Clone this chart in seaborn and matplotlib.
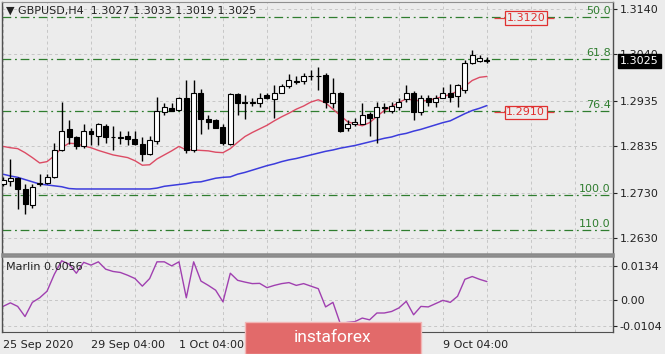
import numpy as np
import pandas as pd
import matplotlib
matplotlib.use("Agg")
import matplotlib.pyplot as plt
import seaborn as sns
from matplotlib.patches import Rectangle

# H4 candles
opens = [1.2750, 1.2757, 1.2764, 1.2739, 1.2703, 1.2750, 1.2753, 1.2766, 1.2825, 1.2872,
         1.2854, 1.2834, 1.2869, 1.2858, 1.2880, 1.2856, 1.2852, 1.2858, 1.2851, 1.2840,
         1.2818, 1.2847, 1.2910, 1.2919, 1.2916, 1.2941, 1.2825, 1.2952, 1.2896, 1.2892,
         1.2878, 1.2840, 1.2950, 1.2934, 1.2930, 1.2930, 1.2948, 1.2939, 1.2954, 1.2968,
         1.2979, 1.2979, 1.2992, 1.2990, 1.2994, 1.2930, 1.2954, 1.2876, 1.2883, 1.2885,
         1.2907, 1.2900, 1.2921, 1.2914, 1.2921, 1.2939, 1.2954, 1.2910, 1.2941, 1.2934,
         1.2943, 1.2954, 1.2947, 1.2959, 1.3019, 1.3024, 1.3027]
highs = [1.2766, 1.2806, 1.2766, 1.2750, 1.2750, 1.2773, 1.2773, 1.2842, 1.2932, 1.2892,
         1.2858, 1.2883, 1.2876, 1.2887, 1.2883, 1.2880, 1.2869, 1.2869, 1.2869, 1.2854,
         1.2858, 1.2945, 1.2930, 1.2930, 1.2945, 1.2981, 1.2981, 1.2963, 1.2903, 1.2896,
         1.2885, 1.2954, 1.2954, 1.2948, 1.2941, 1.2954, 1.2952, 1.2970, 1.2974, 1.2995,
         1.2992, 1.2997, 1.3004, 1.3010, 1.2997, 1.2986, 1.2956, 1.2892, 1.2898, 1.2930,
         1.2910, 1.2932, 1.2930, 1.2932, 1.2941, 1.2970, 1.2957, 1.2948, 1.2948, 1.2948,
         1.2966, 1.2974, 1.2974, 1.3026, 1.3048, 1.3037, 1.3033]
lows = [1.2746, 1.2746, 1.2694, 1.2683, 1.2697, 1.2746, 1.2750, 1.2764, 1.2823, 1.2840,
        1.2829, 1.2831, 1.2836, 1.2836, 1.2842, 1.2825, 1.2840, 1.2836, 1.2836, 1.2802,
        1.2815, 1.2840, 1.2903, 1.2912, 1.2914, 1.2820, 1.2822, 1.2862, 1.2872, 1.2874,
        1.2836, 1.2836, 1.2903, 1.2896, 1.2925, 1.2921, 1.2939, 1.2898, 1.2952, 1.2965,
        1.2974, 1.2974, 1.2981, 1.2959, 1.2919, 1.2919, 1.2865, 1.2869, 1.2880, 1.2883,
        1.2858, 1.2842, 1.2908, 1.2908, 1.2916, 1.2932, 1.2892, 1.2903, 1.2925, 1.2921,
        1.2941, 1.2932, 1.2921, 1.2954, 1.3017, 1.3023, 1.3019]
closes = [1.2759, 1.2764, 1.2739, 1.2705, 1.2744, 1.2752, 1.2766, 1.2826, 1.2869, 1.2854,
          1.2834, 1.2869, 1.2862, 1.2885, 1.2854, 1.2854, 1.2856, 1.2851, 1.2840, 1.2818,
          1.2849, 1.2912, 1.2921, 1.2914, 1.2941, 1.2825, 1.2952, 1.2894, 1.2889, 1.2876,
          1.2842, 1.2950, 1.2930, 1.2930, 1.2932, 1.2943, 1.2941, 1.2954, 1.2968, 1.2981,
          1.2977, 1.2992, 1.2990, 1.2992, 1.2932, 1.2954, 1.2869, 1.2883, 1.2889, 1.2905,
          1.2898, 1.2921, 1.2919, 1.2923, 1.2934, 1.2954, 1.2910, 1.2941, 1.2932, 1.2943,
          1.2954, 1.2945, 1.2970, 1.3021, 1.3037, 1.3030, 1.3025]

# moving averages (red fast, blue slow)
ma_fast = [1.2834, 1.2831, 1.2829, 1.2820, 1.2809, 1.2797, 1.2800, 1.2813, 1.2831, 1.2841,
           1.2840, 1.2835, 1.2831, 1.2825, 1.2820, 1.2815, 1.2812, 1.2809, 1.2802, 1.2792,
           1.2793, 1.2806, 1.2815, 1.2824, 1.2834, 1.2826, 1.2826, 1.2825, 1.2824, 1.2821,
           1.2820, 1.2829, 1.2843, 1.2856, 1.2865, 1.2873, 1.2881, 1.2891, 1.2900, 1.2908,
           1.2917, 1.2924, 1.2933, 1.2938, 1.2931, 1.2917, 1.2903, 1.2889, 1.2884, 1.2880,
           1.2887, 1.2901, 1.2914, 1.2923, 1.2932, 1.2940, 1.2937, 1.2936, 1.2936, 1.2941,
           1.2945, 1.2950, 1.2957, 1.2968, 1.2981, 1.2988, 1.2990]
ma_slow = [1.2772, 1.2768, 1.2765, 1.2760, 1.2755, 1.2750, 1.2748, 1.2746, 1.2744, 1.2740,
           1.2739, 1.2739, 1.2739, 1.2739, 1.2739, 1.2739, 1.2739, 1.2739, 1.2739, 1.2739,
           1.2739, 1.2741, 1.2745, 1.2747, 1.2749, 1.2751, 1.2754, 1.2755, 1.2759, 1.2763,
           1.2765, 1.2766, 1.2772, 1.2776, 1.2781, 1.2786, 1.2791, 1.2795, 1.2800, 1.2804,
           1.2807, 1.2811, 1.2815, 1.2819, 1.2823, 1.2826, 1.2830, 1.2833, 1.2836, 1.2840,
           1.2844, 1.2848, 1.2852, 1.2855, 1.2860, 1.2863, 1.2868, 1.2872, 1.2877, 1.2882,
           1.2887, 1.2891, 1.2899, 1.2907, 1.2914, 1.2919, 1.2925]

marlin = [-0.0027, -0.0013, -0.0027, -0.0067, -0.0011, 0.0007, 0.0033, 0.0100, 0.0153, 0.0140,
          0.0104, 0.0147, 0.0136, 0.0149, 0.0120, 0.0111, 0.0107, 0.0096, 0.0083, 0.0053,
          0.0083, 0.0149, 0.0149, 0.0133, 0.0149, 0.0007, 0.0149, 0.0073, 0.0056, 0.0037,
          -0.0009, 0.0104, 0.0076, 0.0069, 0.0063, 0.0064, 0.0047, 0.0056, 0.0063, 0.0067,
          0.0056, 0.0063, 0.0053, 0.0043, -0.0029, -0.0011, -0.0095, -0.0090, -0.0087, -0.0073,
          -0.0080, -0.0053, -0.0053, -0.0047, -0.0033, -0.0007, -0.0060, -0.0027, -0.0029, -0.0016,
          -0.0003, -0.0011, 0.0013, 0.0080, 0.0091, 0.0080, 0.0071]

fib_labels = ["50.0", "61.8", "76.4", "100.0", "110.0"]
fib_prices = [1.3122, 1.3028, 1.2914, 1.2726, 1.2648]
marked_levels = [1.3120, 1.2910]
marked_labels = ["1.3120", "1.2910"]

price_ticks = [1.2630, 1.2730, 1.2835, 1.2935, 1.3040, 1.3140]
marlin_ticks = [0.0134, 0.0, -0.0104]
marlin_tick_labels = ["0.0134", "0.00", "-0.0104"]
date_ticks = [0, 12, 24, 60]
date_labels = ["25 Sep 2020", "29 Sep 04:00", "1 Oct 04:00", "9 Oct 04:00"]
last_price = 1.3025

df = pd.DataFrame({"open": opens, "high": highs, "low": lows, "close": closes,
                   "ma_fast": ma_fast, "ma_slow": ma_slow, "marlin": marlin})
df["bar"] = np.arange(len(df))

sns.set_style("white")
plt.rcParams["font.family"] = ["DejaVu Sans"]
bg = "#ececec"
grid_c = "#c6c6c6"
fib_c = "#2f7d2f"

fig = plt.figure(figsize=(6.65, 3.54), dpi=100, facecolor=bg)
W, H = 665, 354
ax1 = fig.add_axes([2 / W, 1 - 254 / H, 611 / W, 252 / H], facecolor=bg)
ax2 = fig.add_axes([2 / W, 1 - 332 / H, 611 / W, 76 / H], facecolor=bg)

xlim = (-0.14, 83.2)
grid_pos = list(range(0, 84, 6))

# candles
ax1.vlines(df.bar, df.low, df.high, color="black", lw=1, zorder=3)
bull = df.close >= df.open
body_bottom = np.minimum(df.open, df.close)
body_h = (df.close - df.open).abs()
ax1.bar(df.bar, body_h, bottom=body_bottom, width=0.68,
        color=np.where(bull, "white", "black"), edgecolor="black", lw=0.8, zorder=4)

sns.lineplot(data=df, x="bar", y="ma_fast", color="#dc4b64", lw=1, ax=ax1, zorder=2)
sns.lineplot(data=df, x="bar", y="ma_slow", color="#3c3cdc", lw=1.1, ax=ax1, zorder=2)

# fibo levels
for lab, lvl in zip(fib_labels, fib_prices):
    ax1.axhline(lvl, color=fib_c, lw=0.9, ls=(0, (7, 3, 1.5, 3)), zorder=1)
    ax1.text(82.9, lvl + 0.0002, lab, color=fib_c, fontsize=8, ha="right", va="bottom")

for lab, lvl in zip(marked_labels, marked_levels):
    ax1.hlines(lvl, 67, 75.2, color="#e04040", lw=0.9, zorder=2)
    ax1.text(71.3, lvl, lab, color="#e03030", fontsize=8, ha="center", va="center", zorder=5,
             bbox=dict(boxstyle="square,pad=0.15", fc=bg, ec="#e03030", lw=0.9))

ax1.set_xlim(*xlim)
ax1.set_ylim(1.2594, 1.3156)
ax1.set_xticks(grid_pos)
ax1.set_yticks(price_ticks)
ax1.set_yticklabels([f"{t:.4f}" for t in price_ticks])
ax1.yaxis.tick_right()
ax1.tick_params(axis="x", length=0, labelbottom=False)
ax1.tick_params(axis="y", direction="out", length=3, width=0.8, labelsize=8, pad=2,
                colors="#222222")
ax1.grid(True, ls=(0, (3, 3)), color=grid_c, lw=0.7)
ax1.set_xlabel("")
ax1.set_ylabel("")

ax1.text(0.006, 0.985, "\u25bc GBPUSD,H4  1.3027 1.3033 1.3019 1.3025", transform=ax1.transAxes,
         fontsize=8, va="top", ha="left", color="#222222")
ax1.annotate(f"{last_price:.4f}", xy=(1.0, last_price), xycoords=("axes fraction", "data"),
             xytext=(5, 0), textcoords="offset points", fontsize=8, color="white",
             va="center", ha="left", annotation_clip=False, zorder=10,
             bbox=dict(boxstyle="square,pad=0.2", fc="black", ec="black"))

# Marlin panel
sns.lineplot(data=df, x="bar", y="marlin", color="#a040b0", lw=1, ax=ax2)
ax2.set_xlim(*xlim)
ax2.set_ylim(-0.0128, 0.0172)
ax2.set_yticks(marlin_ticks)
ax2.set_yticklabels(marlin_tick_labels)
ax2.yaxis.tick_right()
ax2.set_xticks(date_ticks)
ax2.set_xticklabels(date_labels, ha="left")
ax2.set_xticks(grid_pos, minor=True)
ax2.tick_params(axis="x", which="major", direction="out", length=4, labelsize=8, pad=2,
                colors="#222222")
ax2.tick_params(axis="x", which="minor", direction="out", length=2)
ax2.tick_params(axis="y", direction="out", length=3, labelsize=8, pad=2, colors="#222222")
ax2.grid(True, which="both", ls=(0, (3, 3)), color=grid_c, lw=0.7)
ax2.set_xlabel("")
ax2.set_ylabel("")
ax2.text(0.006, 0.92, "Marlin 0.0056", transform=ax2.transAxes, fontsize=8,
         va="top", ha="left", color="#222222")

for ax in (ax1, ax2):
    for s in ("left", "right"):
        ax.spines[s].set_color("#505050")
        ax.spines[s].set_linewidth(1)
ax1.spines["top"].set_color("#909090")
ax1.spines["bottom"].set_color("#8a8a8a")
ax1.spines["bottom"].set_linewidth(1.8)
ax2.spines["top"].set_color("#8a8a8a")
ax2.spines["top"].set_linewidth(1.8)
ax2.spines["bottom"].set_color("#505050")

# watermark
fig.add_artist(Rectangle((245 / W, 0), 176 / W, 32 / H, transform=fig.transFigure,
                         facecolor="#e26a6a", edgecolor="#f2b5b5", lw=1, zorder=20))
fig.text(333 / W, 16 / H, "instaforex", color="white", fontsize=12.5, family="Roboto",
         ha="center", va="center", zorder=21)

fig.savefig("out.png", dpi=100, facecolor=bg)
